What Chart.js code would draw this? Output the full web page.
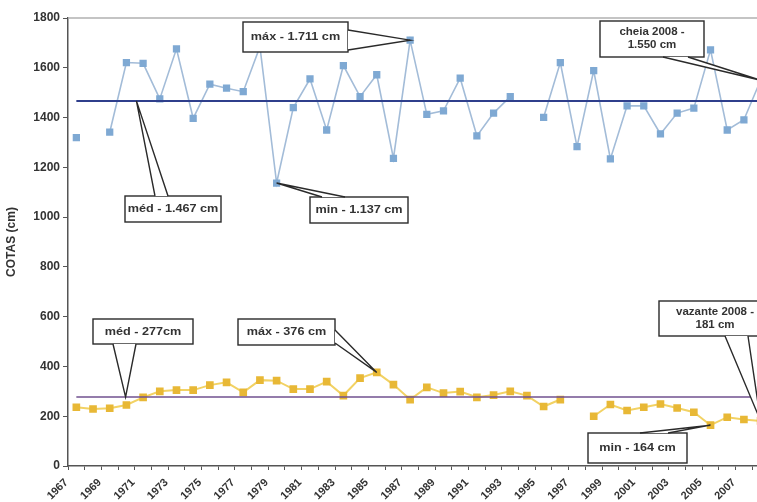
<!DOCTYPE html>
<html>
<head>
<meta charset="utf-8">
<script src="https://cdn.jsdelivr.net/npm/chart.js@4/dist/chart.umd.min.js"></script>
<style>
html,body{margin:0;padding:0;background:#fff;overflow:hidden;}
#wrap{width:776px;height:502px;position:relative;}
</style>
</head>
<body>
<div id="wrap"><canvas id="c"></canvas></div>
<script>
// ---- data ----
const years = ['1967','1968','1969','1970','1971','1972','1973','1974','1975','1976','1977','1978','1979','1980','1981','1982','1983','1984','1985','1986','1987','1988','1989','1990','1991','1992','1993','1994','1995','1996','1997','1998','1999','2000','2001','2002','2003','2004','2005','2006','2007','2008'];
const cheia = [1319,null,1341,1621,1618,1475,1676,1397,1534,1518,1504,1685,1137,1440,1555,1350,1609,1484,1572,1236,1711,1413,1427,1558,1326,1418,1484,null,1401,1621,1283,1589,1234,1447,1447,1334,1418,1438,1672,1350,1391,1550];
const vazante = [236,229,232,245,276,300,305,305,325,336,296,345,343,309,309,339,283,353,376,327,267,316,293,299,276,285,300,283,239,267,null,200,247,223,236,249,233,216,164,196,187,181];
const medCheiaValue = 1467;
const medVazanteValue = 277;
const medCheia = years.map(() => medCheiaValue);
const medVazante = years.map(() => medVazanteValue);
const yTicks = [0,200,400,600,800,1000,1200,1400,1600,1800];

// ---- annotations (tip in data units, box in px) ----
const notes = [
  {lines:['máx - 1.711 cm'], tip:[20,1711], box:[243,22,105,30], side:'right', base:[30,50], size:11},
  {lines:['méd - 1.467 cm'], tip:[3.6,medCheiaValue], box:[125,196,96,26], side:'top', base:[155,168], size:11},
  {lines:['min - 1.137 cm'], tip:[12,1137], box:[310,197,98,26], side:'top', base:[322,345], size:11},
  {lines:['cheia 2008 -','1.550 cm'], tip:[41,1550], box:[600,21,104,36], side:'bottom', base:[663,688], size:10},
  {lines:['méd - 277cm'], tip:[2.95,medVazanteValue], box:[93,319,100,25], side:'bottom', base:[113,136], size:11},
  {lines:['máx - 376 cm'], tip:[18,376], box:[238,319,97,26], side:'right', base:[330,343], size:11},
  {lines:['vazante 2008 -','181 cm'], tip:[41,181], box:[659,301,112,35], side:'bottom', base:[725,748], size:10},
  {lines:['min - 164 cm'], tip:[38,164], box:[588,433,99,30], side:'top', base:[640,668], size:11}
];

const FONT = '"Liberation Sans", Arial, sans-serif';

const framePlugin = {
  id:'frame',
  beforeDatasetsDraw(chart){
    const {ctx, chartArea:a} = chart;
    ctx.save();
    ctx.strokeStyle = '#b0b0b0';
    ctx.lineWidth = 1.5;
    ctx.beginPath();
    ctx.moveTo(a.left, a.top);
    ctx.lineTo(a.right, a.top);
    ctx.stroke();
    ctx.restore();
  }
};

const notePlugin = {
  id:'notes',
  afterDatasetsDraw(chart){
    const ctx = chart.ctx;
    const xs = chart.scales.x, ys = chart.scales.y;
    ctx.save();
    notes.forEach(n => {
      const [bx,by,bw,bh] = n.box;
      const tx = xs.getPixelForValue(n.tip[0]);
      const ty = ys.getPixelForValue(n.tip[1]);
      let p1, p2;
      if (n.side === 'right') { p1=[bx+bw,n.base[0]]; p2=[bx+bw,n.base[1]]; }
      else if (n.side === 'left') { p1=[bx,n.base[0]]; p2=[bx,n.base[1]]; }
      else if (n.side === 'top') { p1=[n.base[0],by]; p2=[n.base[1],by]; }
      else { p1=[n.base[0],by+bh]; p2=[n.base[1],by+bh]; }
      ctx.fillStyle = '#fff';
      ctx.strokeStyle = '#2a2a2a';
      ctx.lineWidth = 1.4;
      ctx.fillRect(bx,by,bw,bh);
      ctx.strokeRect(bx,by,bw,bh);
      ctx.beginPath();
      ctx.moveTo(p1[0],p1[1]);
      ctx.lineTo(tx,ty);
      ctx.lineTo(p2[0],p2[1]);
      ctx.closePath();
      ctx.fill();
      ctx.beginPath();
      ctx.moveTo(p1[0],p1[1]);
      ctx.lineTo(tx,ty);
      ctx.lineTo(p2[0],p2[1]);
      ctx.stroke();
      ctx.fillStyle = '#333';
      ctx.font = 'bold ' + n.size + 'px ' + FONT;
      ctx.textAlign = 'center';
      ctx.textBaseline = 'middle';
      const lh = n.size + 3;
      const cx = bx + bw/2;
      const cy0 = by + bh/2 - (n.lines.length-1)*lh/2;
      n.lines.forEach((t,k) => {
        ctx.save();
        ctx.translate(cx, cy0 + k*lh);
        ctx.scale(1.15,1);
        ctx.fillText(t,0,0);
        ctx.restore();
      });
    });
    ctx.restore();
  }
};

new Chart(document.getElementById('c'), {
  type:'line',
  data:{
    labels: years,
    datasets:[
      {label:'méd cheia', data:medCheia, borderColor:'#2f3f8c', borderWidth:2, pointRadius:0, order:0},
      {label:'cheia', data:cheia, borderColor:'#a3bcd8', borderWidth:1.6, pointStyle:'rect', pointRadius:4,
       pointBackgroundColor:'#7fa9d3', pointBorderColor:'#7fa9d3', spanGaps:false, order:1},
      {label:'méd vazante', data:medVazante, borderColor:'#70508f', borderWidth:1.5, pointRadius:0, order:0},
      {label:'vazante', data:vazante, borderColor:'#f2d264', borderWidth:2, pointStyle:'rect', pointRadius:4,
       pointBackgroundColor:'#e8b836', pointBorderColor:'#e8b836', spanGaps:false, order:1}
    ]
  },
  options:{
    responsive:true,
    maintainAspectRatio:false,
    animation:false,
    layout:{padding:{top:18,right:4,left:0,bottom:0}},
    plugins:{legend:{display:false}, tooltip:{enabled:false}},
    scales:{
      x:{
        type:'category',
        offset:true,
        grid:{display:true, drawOnChartArea:false, offset:true, tickLength:4, color:'#555', lineWidth:1},
        border:{display:true, color:'#555', width:1.5},
        ticks:{autoSkip:false, maxRotation:45, minRotation:45, padding:6, labelOffset:-10,
          color:'#333', font:{family:FONT, size:11, weight:'bold'},
          callback:(v,i) => (i % 2 === 0 ? years[i] : '')},
        afterFit(s){ s.height = 36; }
      },
      y:{
        min:0, max:1800,
        afterBuildTicks(s){ s.ticks = yTicks.map(v => ({value:v})); },
        grid:{display:true, drawOnChartArea:false, tickLength:5, color:'#555'},
        border:{display:true, color:'#555', width:1.5},
        ticks:{padding:3, color:'#333', font:{family:FONT, size:12, weight:'bold'},
          callback:(v) => String(v)},
        title:{display:true, text:'COTAS (cm)', color:'#333', padding:{top:4,bottom:4},
          font:{family:FONT, size:12, weight:'bold'}},
        afterFit(s){ s.width = 68; }
      }
    }
  },
  plugins:[framePlugin, notePlugin]
});
</script>
</body>
</html>
